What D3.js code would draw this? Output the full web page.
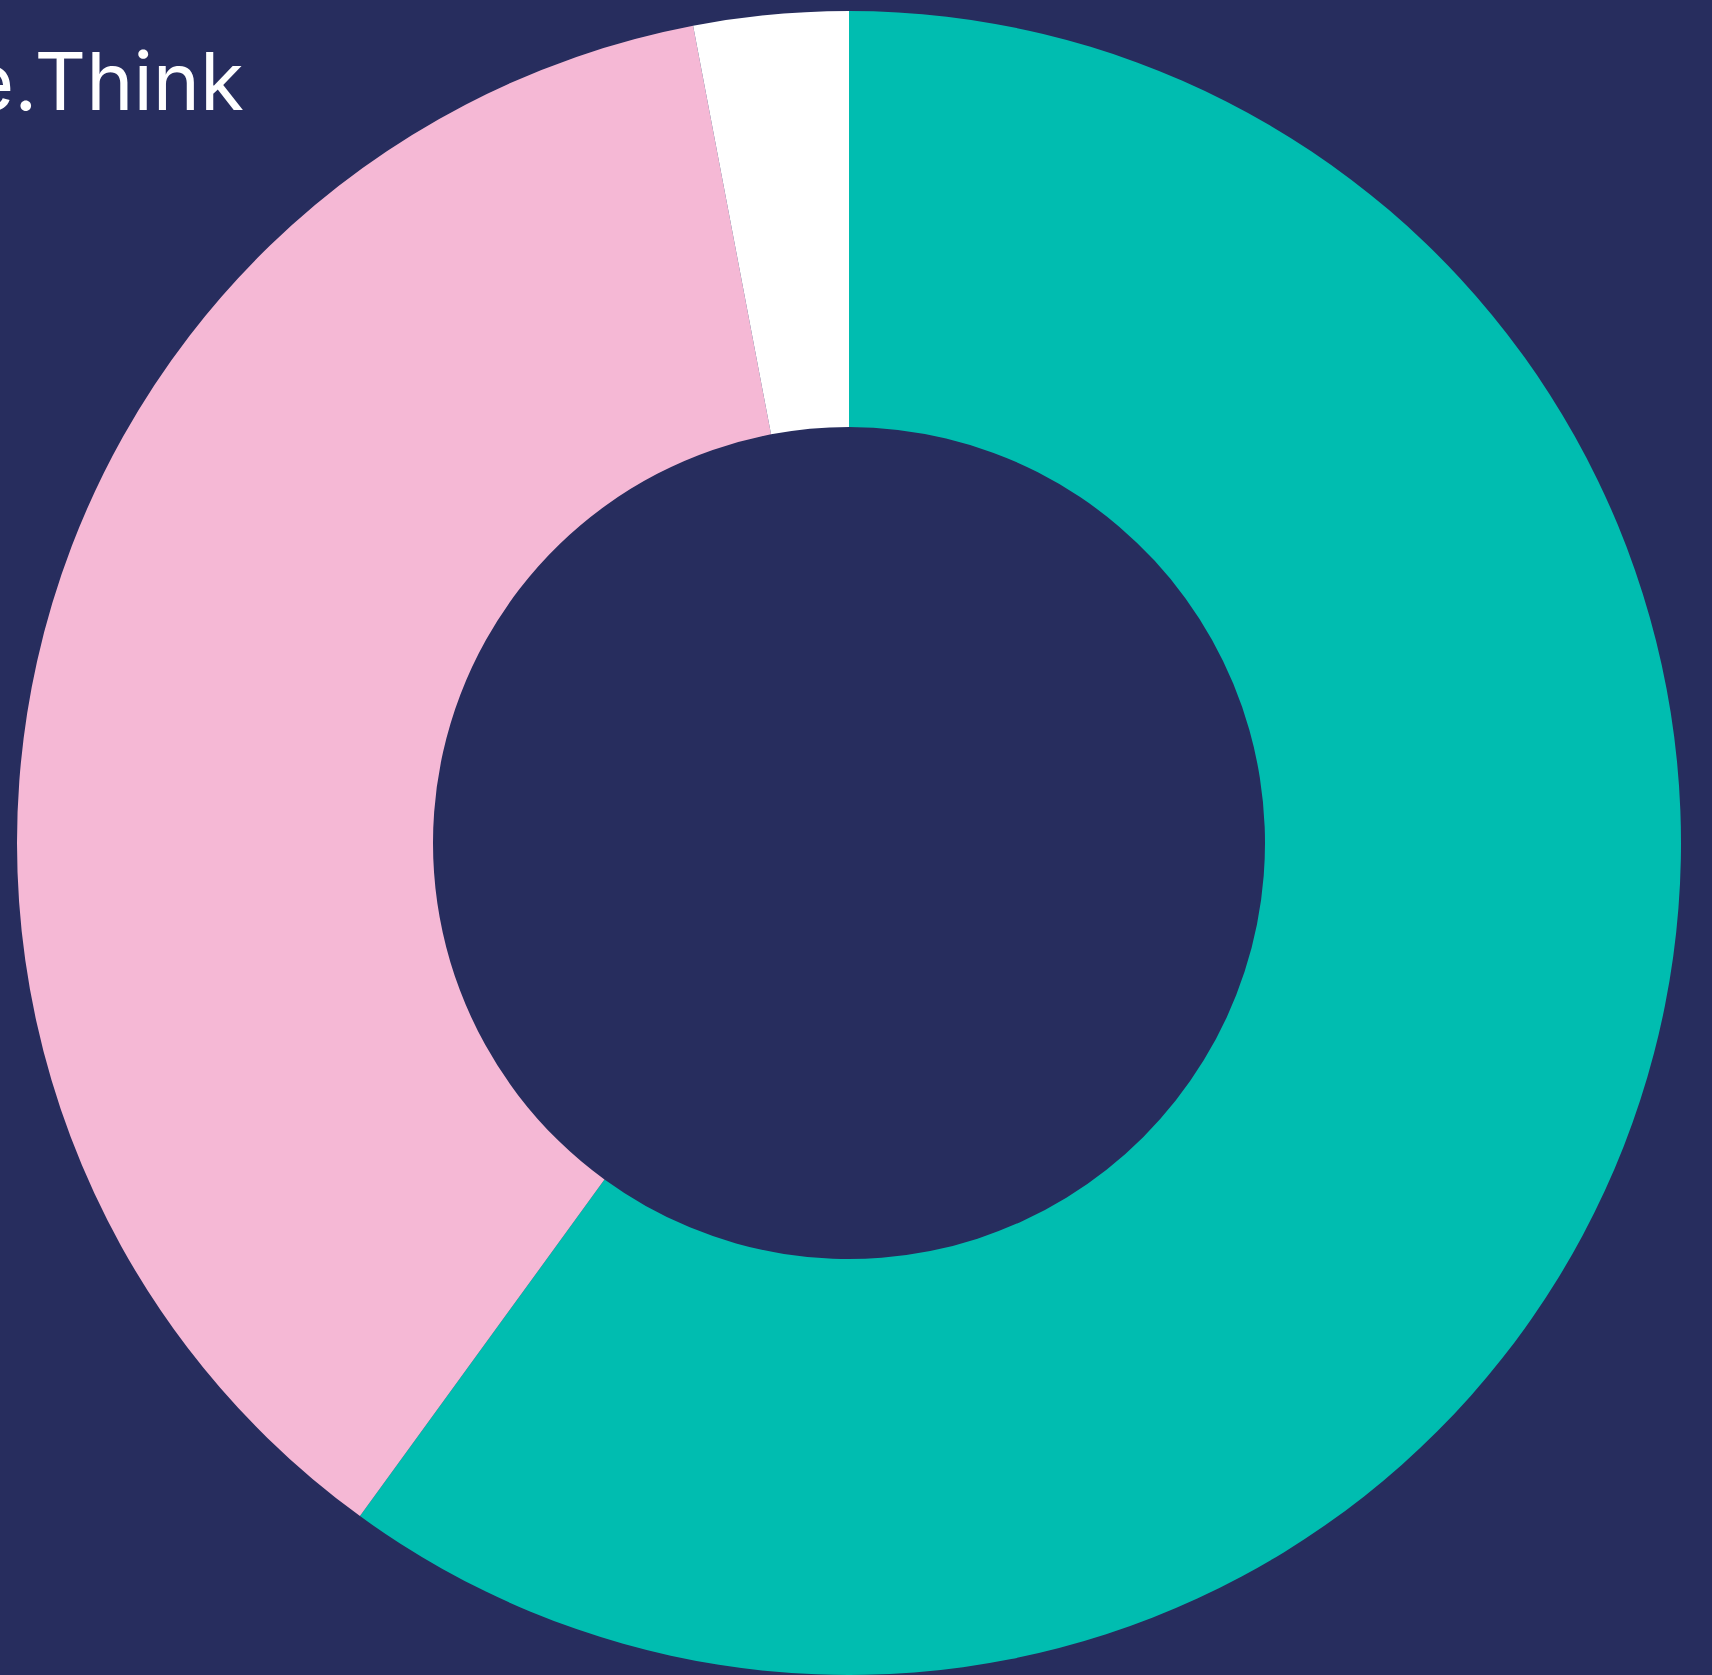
<!DOCTYPE html>
<html>
<head>
<meta charset="utf-8">
<script src="https://cdn.jsdelivr.net/npm/d3@7"></script>
<style>
  html, body { margin: 0; padding: 0; background: #272d5e; overflow: hidden; }
  svg { display: block; }
</style>
</head>
<body>
<div id="content"></div>
<script>
// slices, clockwise from 12 o'clock
const categories = ['A', 'B', 'C'];
const values = [60, 37, 3];
const colors = ['#00bdb0', '#f5b8d5', '#ffffff'];
const brand = 'e.Think';

const width = 1712, height = 1675;
const cx = 849, cy = 843;
const outerR = 832, innerR = 416;

const svg = d3.select('#content').append('svg')
  .attr('width', width)
  .attr('height', height);

svg.append('rect')
  .attr('width', width)
  .attr('height', height)
  .attr('fill', '#272d5e');

const color = d3.scaleOrdinal().domain(categories).range(colors);

const pie = d3.pie().sort(null).value(d => d.value);
const arc = d3.arc().innerRadius(innerR).outerRadius(outerR);

const data = categories.map((c, i) => ({ cat: c, value: values[i] }));

svg.append('g')
  .attr('transform', `translate(${cx},${cy})`)
  .selectAll('path')
  .data(pie(data))
  .join('path')
  .attr('d', arc)
  .attr('fill', d => color(d.data.cat));

svg.append('text')
  .attr('x', 244)
  .attr('y', 110)
  .attr('text-anchor', 'end')
  .attr('fill', '#ffffff')
  .attr('font-family', 'Inter, "Noto Sans", sans-serif')
  .attr('font-size', 80)
  .text(brand);
</script>
</body>
</html>
